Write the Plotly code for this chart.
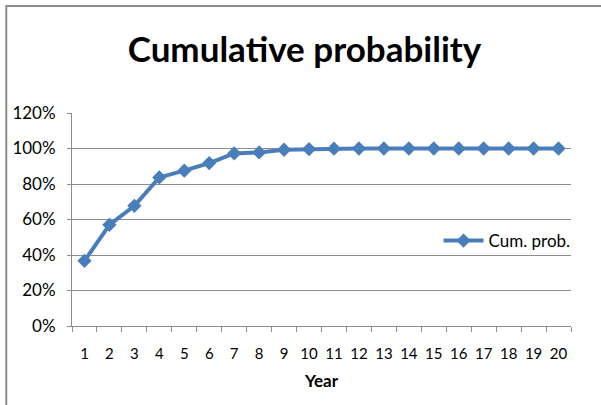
import plotly.graph_objects as go

years = [str(i) for i in range(1, 21)]
cum_prob = [0.367, 0.570, 0.677, 0.837, 0.875, 0.918, 0.972, 0.978, 0.993, 0.997,
            0.999, 1.0, 1.0, 1.0, 1.0, 1.0, 1.0, 1.0, 1.0, 1.0]
y_ticks = [0, 0.2, 0.4, 0.6, 0.8, 1.0, 1.2]
y_tick_labels = ["0%", "20%", "40%", "60%", "80%", "100%", "120%"]

BLUE = "#4A7EBB"
GRID = "#8C8C8C"
FONT = "Lato"

W, H = 601, 405
L, R, T, B = 70, 30, 113, 79
pw, ph = W - L - R, H - T - B

fig = go.Figure()
fig.add_trace(go.Scatter(
    x=years, y=cum_prob, mode="lines+markers", name="Cum. prob.",
    line=dict(color=BLUE, width=4),
    marker=dict(symbol="diamond", size=11, color=BLUE),
))

fig.update_layout(
    width=W, height=H,
    margin=dict(l=L, r=R, t=T, b=B),
    paper_bgcolor="white", plot_bgcolor="white",
    font=dict(family=FONT, size=17, color="#000000"),
    title=dict(text="<b>Cumulative probability</b>", x=304.5 / W, xanchor="center",
               y=1 - 50 / H, yanchor="middle", yref="container",
               font=dict(family=FONT, size=35, color="#000000")),
    showlegend=True,
    legend=dict(x=(438 - L) / pw, xanchor="left", y=(H - B - 241) / ph, yanchor="middle",
                bgcolor="rgba(0,0,0,0)", font=dict(family=FONT, size=17),
                itemwidth=40, tracegroupgap=0),
    xaxis=dict(type="category", tickson="boundaries", ticks="outside", ticklen=5,
               range=[-0.5, len(years) - 0.5], tickangle=0,
               tickcolor=GRID, showline=True, linecolor=GRID, linewidth=1,
               showgrid=False, ticklabelstandoff=14,
               title=dict(text="<b>Year</b>", font=dict(family=FONT, size=17), standoff=14),
               tickfont=dict(family=FONT, size=15)),
    yaxis=dict(range=[0, 1.2], tickvals=y_ticks, ticktext=y_tick_labels,
               ticks="outside", ticklen=4, tickcolor=GRID,
               showline=True, linecolor=GRID, linewidth=1,
               showgrid=True, gridcolor=GRID, gridwidth=1,
               zeroline=False, ticklabelstandoff=8,
               tickfont=dict(family=FONT, size=17)),
    shapes=[dict(type="rect", xref="paper", yref="paper",
                 x0=(4 - L) / pw, x1=(W + 20 - L) / pw,
                 y0=(H - B - (H + 20)) / ph, y1=(H - B - 6) / ph,
                 line=dict(color="#8C8C8C", width=2), fillcolor="rgba(0,0,0,0)", layer="below")],
)

fig.write_html("out.html")
